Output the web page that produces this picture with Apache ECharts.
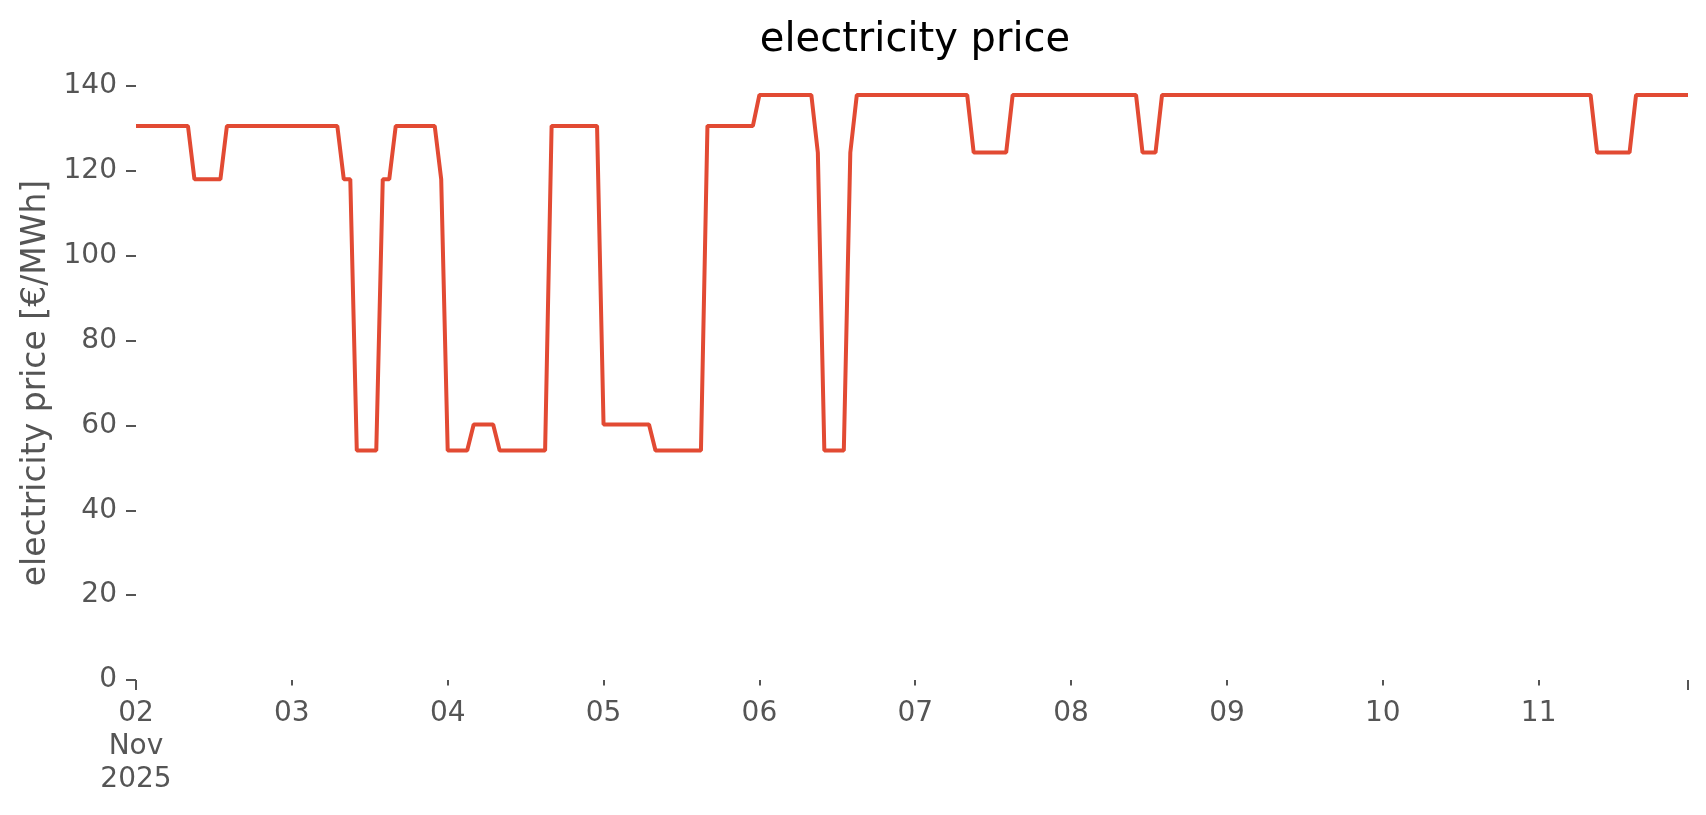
<!DOCTYPE html>
<html>
<head>
<meta charset="utf-8">
<title>electricity price</title>
<script src="https://cdn.jsdelivr.net/npm/echarts@6/dist/echarts.min.js"></script>
<style>
  html, body { margin: 0; padding: 0; background: #fff; }
  #main { width: 1706px; height: 815px; }
</style>
</head>
<body>
<div id="main"></div>
<script>
// hourly prices in €/MWh, one array per day (Nov 2025)
const price02 = [130.6, 130.6, 130.6, 130.6, 130.6, 130.6, 130.6, 130.6, 130.6, 118.0, 118.0, 118.0, 118.0, 118.0, 130.6, 130.6, 130.6, 130.6, 130.6, 130.6, 130.6, 130.6, 130.6, 130.6]
const price03 = [130.6, 130.6, 130.6, 130.6, 130.6, 130.6, 130.6, 130.6, 118.0, 118.0, 54.1, 54.1, 54.1, 54.1, 118.0, 118.0, 130.6, 130.6, 130.6, 130.6, 130.6, 130.6, 130.6, 118.0]
const price04 = [54.1, 54.1, 54.1, 54.1, 60.2, 60.2, 60.2, 60.2, 54.1, 54.1, 54.1, 54.1, 54.1, 54.1, 54.1, 54.1, 130.6, 130.6, 130.6, 130.6, 130.6, 130.6, 130.6, 130.6]
const price05 = [60.2, 60.2, 60.2, 60.2, 60.2, 60.2, 60.2, 60.2, 54.1, 54.1, 54.1, 54.1, 54.1, 54.1, 54.1, 54.1, 130.6, 130.6, 130.6, 130.6, 130.6, 130.6, 130.6, 130.6]
const price06 = [137.9, 137.9, 137.9, 137.9, 137.9, 137.9, 137.9, 137.9, 137.9, 124.3, 54.1, 54.1, 54.1, 54.1, 124.3, 137.9, 137.9, 137.9, 137.9, 137.9, 137.9, 137.9, 137.9, 137.9]
const price07 = [137.9, 137.9, 137.9, 137.9, 137.9, 137.9, 137.9, 137.9, 137.9, 124.3, 124.3, 124.3, 124.3, 124.3, 124.3, 137.9, 137.9, 137.9, 137.9, 137.9, 137.9, 137.9, 137.9, 137.9]
const price08 = [137.9, 137.9, 137.9, 137.9, 137.9, 137.9, 137.9, 137.9, 137.9, 137.9, 137.9, 124.3, 124.3, 124.3, 137.9, 137.9, 137.9, 137.9, 137.9, 137.9, 137.9, 137.9, 137.9, 137.9]
const price09 = [137.9, 137.9, 137.9, 137.9, 137.9, 137.9, 137.9, 137.9, 137.9, 137.9, 137.9, 137.9, 137.9, 137.9, 137.9, 137.9, 137.9, 137.9, 137.9, 137.9, 137.9, 137.9, 137.9, 137.9]
const price10 = [137.9, 137.9, 137.9, 137.9, 137.9, 137.9, 137.9, 137.9, 137.9, 137.9, 137.9, 137.9, 137.9, 137.9, 137.9, 137.9, 137.9, 137.9, 137.9, 137.9, 137.9, 137.9, 137.9, 137.9]
const price11 = [137.9, 137.9, 137.9, 137.9, 137.9, 137.9, 137.9, 137.9, 137.9, 124.3, 124.3, 124.3, 124.3, 124.3, 124.3, 137.9, 137.9, 137.9, 137.9, 137.9, 137.9, 137.9, 137.9, 137.9]

const days = ['02', '03', '04', '05', '06', '07', '08', '09', '10', '11']
const monthLabel = 'Nov'
const yearLabel = '2025'
const yTicks = [0, 20, 40, 60, 80, 100, 120, 140]

// flatten the days into one hourly series
const hourly = [price02, price03, price04, price05, price06, price07, price08, price09, price10, price11]
const times = []
const prices = []
days.forEach((d, i) => {
  hourly[i].forEach((v, h) => {
    times.push('2025-11-' + d + ' ' + String(h).padStart(2, '0') + ':00')
    prices.push(v)
  })
})
const last = times.length - 1

const textColor = '#555555'
const font = 'DejaVu Sans'
const tickStyle = { color: textColor, width: 2 }

const chart = echarts.init(document.getElementById('main'))

const option = {
  animation: false,
  backgroundColor: '#ffffff',
  title: {
    text: 'electricity price',
    left: 910,
    top: 16,
    textAlign: 'center',
    textStyle: { fontFamily: font, fontSize: 40, fontWeight: 'normal', color: '#000000' }
  },
  grid: { left: 136, right: 18, top: 86, bottom: 135 },
  xAxis: [
    {
      type: 'category',
      data: times,
      boundaryGap: false,
      axisLine: { show: false },
      // short ticks on each day
      axisTick: { show: true, interval: (i) => i % 24 === 0 && i > 0, length: 5.5, lineStyle: tickStyle },
      axisLabel: {
        interval: (i) => i % 24 === 0,
        formatter: (v, i) => i === 0 ? v.slice(8, 10) + '\n' + monthLabel + '\n' + yearLabel : v.slice(8, 10),
        color: textColor,
        fontFamily: font,
        fontSize: 28,
        lineHeight: 33,
        margin: 17
      },
      splitLine: { show: false }
    },
    {
      // long ticks at both ends of the range
      type: 'category',
      data: times,
      boundaryGap: false,
      position: 'bottom',
      axisLine: { show: false },
      axisLabel: { show: false },
      axisTick: { show: true, interval: (i) => i === 0 || i === last, length: 10, lineStyle: tickStyle },
      splitLine: { show: false }
    }
  ],
  yAxis: {
    type: 'value',
    min: yTicks[0],
    max: yTicks[yTicks.length - 1],
    interval: yTicks[1] - yTicks[0],
    name: 'electricity price [€/MWh]',
    nameLocation: 'middle',
    nameGap: 80,
    nameTextStyle: { fontFamily: font, fontSize: 33, color: textColor },
    axisLine: { show: false },
    axisTick: { show: true, length: 10, lineStyle: tickStyle },
    axisLabel: { color: textColor, fontFamily: font, fontSize: 28, margin: 19 },
    splitLine: { show: false }
  },
  series: [
    {
      name: 'electricity price',
      type: 'line',
      data: prices,
      symbol: 'none',
      showSymbol: false,
      lineStyle: { color: '#E24A33', width: 4 },
      itemStyle: { color: '#E24A33' }
    }
  ]
}

chart.setOption(option)
</script>
</body>
</html>
